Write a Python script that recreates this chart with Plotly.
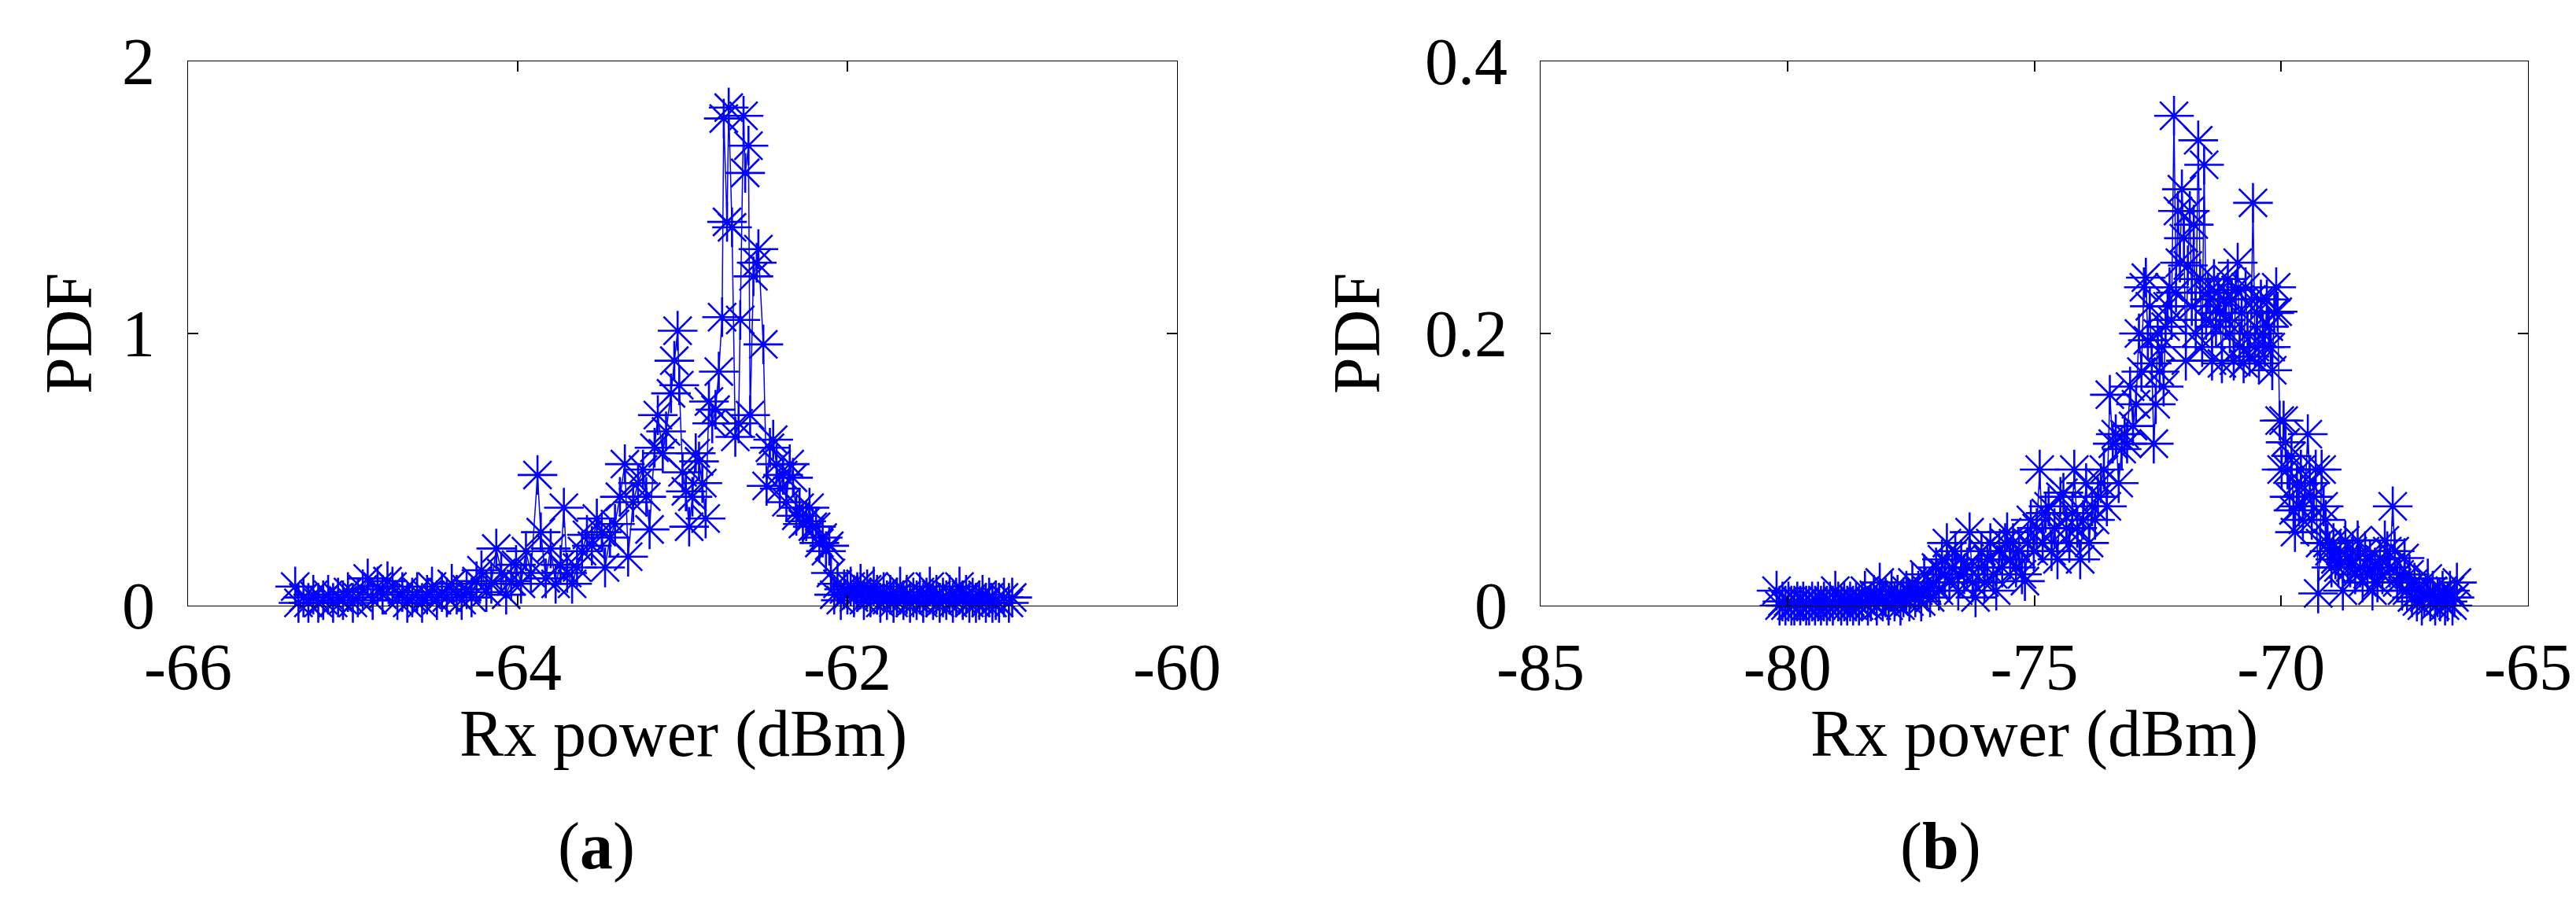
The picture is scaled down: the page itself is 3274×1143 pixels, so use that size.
import plotly.graph_objects as go

# ---------------- data: panel (a) ----------------
a_x = [-65.35, -65.33, -65.30, -65.27, -65.24, -65.21, -65.18, -65.15, -65.12, -65.09,
       -65.06, -65.03, -65.00, -64.97, -64.94, -64.91, -64.88, -64.85, -64.82, -64.79,
       -64.76, -64.73, -64.70, -64.67, -64.64, -64.61, -64.58, -64.55, -64.52, -64.49,
       -64.46, -64.43, -64.40, -64.37, -64.34, -64.31, -64.28, -64.25, -64.22, -64.19,
       -64.16, -64.13, -64.10, -64.07, -64.04, -64.01, -63.98, -63.95, -63.92, -63.88,
       -63.86, -63.83, -63.80, -63.77, -63.74, -63.72, -63.70, -63.67, -63.64, -63.61,
       -63.58, -63.55, -63.52, -63.49, -63.47, -63.44, -63.41, -63.38, -63.35, -63.33,
       -63.30, -63.27, -63.24, -63.22, -63.20, -63.17, -63.15, -63.12, -63.10, -63.07,
       -63.05, -63.03, -63.02, -63.00, -62.98, -62.96, -62.94, -62.92, -62.90, -62.88,
       -62.86, -62.84, -62.82, -62.80, -62.78, -62.76, -62.75, -62.73, -62.72, -62.70,
       -62.68, -62.66, -62.65, -62.63, -62.62, -62.60, -62.59, -62.57, -62.55, -62.54,
       -62.51, -62.49, -62.47, -62.45, -62.43, -62.41, -62.39, -62.37, -62.35, -62.33,
       -62.31, -62.29, -62.27, -62.25, -62.23, -62.21, -62.19, -62.17, -62.15, -62.13,
       -62.11, -62.10, -62.08, -62.06, -62.04, -62.02, -62.00, -61.98, -61.96, -61.94,
       -61.92, -61.90, -61.88, -61.86, -61.84, -61.82, -61.80, -61.78, -61.76, -61.74,
       -61.72, -61.70, -61.68, -61.66, -61.64, -61.62, -61.60, -61.58, -61.56, -61.54,
       -61.52, -61.50, -61.48, -61.46, -61.44, -61.42, -61.40, -61.38, -61.36, -61.34,
       -61.32, -61.30, -61.28, -61.26, -61.24, -61.22, -61.20, -61.18, -61.16, -61.14,
       -61.12, -61.10, -61.08, -61.05, -61.02, -61.00]
a_y = [0.07, 0.01, 0.03, 0.01, 0.04, 0.01, 0.02, 0.04, 0.01, 0.03,
       0.02, 0.05, 0.01, 0.03, 0.06, 0.10, 0.02, 0.07, 0.04, 0.09,
       0.07, 0.02, 0.05, 0.01, 0.03, 0.05, 0.01, 0.04, 0.07, 0.02,
       0.05, 0.03, 0.08, 0.04, 0.02, 0.06, 0.03, 0.09, 0.13, 0.05,
       0.08, 0.21, 0.12, 0.04, 0.09, 0.15, 0.08, 0.20, 0.12, 0.48,
       0.27, 0.10, 0.21, 0.08, 0.15, 0.36, 0.12, 0.08, 0.14, 0.20,
       0.26, 0.22, 0.32, 0.27, 0.14, 0.25, 0.30, 0.40, 0.52, 0.18,
       0.38, 0.45, 0.50, 0.40, 0.28, 0.58, 0.70, 0.56, 0.64, 0.78,
       0.90, 1.01, 0.81, 0.49, 0.42, 0.29, 0.40, 0.56, 0.53, 0.45,
       0.32, 0.75, 0.67, 0.72, 0.86, 1.06, 1.79, 1.41, 1.83, 1.39,
       0.62, 0.67, 1.05, 1.80, 1.59, 1.69, 0.70, 1.21, 1.26, 1.31,
       0.96, 0.44, 0.58, 0.61, 0.52, 0.43, 0.48, 0.38, 0.52, 0.47,
       0.33, 0.36, 0.30, 0.31, 0.36, 0.29, 0.29, 0.23, 0.25, 0.20,
       0.22, 0.12, 0.04, 0.08, 0.02, 0.06, 0.04, 0.07, 0.03, 0.05,
       0.08, 0.02, 0.06, 0.03, 0.07, 0.04, 0.01, 0.05, 0.02, 0.04,
       0.01, 0.03, 0.07, 0.02, 0.04, 0.01, 0.03, 0.02, 0.05, 0.01,
       0.03, 0.07, 0.02, 0.04, 0.01, 0.03, 0.02, 0.04, 0.01, 0.03,
       0.07, 0.02, 0.04, 0.01, 0.03, 0.01, 0.02, 0.04, 0.01, 0.03,
       0.01, 0.02, 0.01, 0.03, 0.01, 0.03]

# ---------------- data: panel (b) ----------------
b_x = [-80.22, -80.16, -80.10, -80.04, -79.98, -79.92, -79.86, -79.80, -79.74, -79.68,
       -79.62, -79.56, -79.50, -79.44, -79.38, -79.32, -79.26, -79.20, -79.14, -79.08,
       -79.03, -78.97, -78.91, -78.85, -78.79, -78.73, -78.67, -78.61, -78.55, -78.49,
       -78.43, -78.37, -78.31, -78.25, -78.19, -78.13, -78.07, -78.01, -77.95, -77.89,
       -77.83, -77.77, -77.71, -77.65, -77.59, -77.53, -77.47, -77.41, -77.35, -77.29,
       -77.23, -77.17, -77.11, -77.05, -76.99, -76.93, -76.87, -76.81, -76.77, -76.72,
       -76.66, -76.60, -76.54, -76.48, -76.42, -76.36, -76.31, -76.25, -76.19, -76.13,
       -76.07, -76.01, -75.95, -75.89, -75.83, -75.77, -75.71, -75.65, -75.59, -75.55,
       -75.49, -75.43, -75.37, -75.31, -75.25, -75.19, -75.13, -75.07, -75.01, -74.95,
       -74.89, -74.83, -74.77, -74.71, -74.65, -74.59, -74.53, -74.47, -74.41, -74.35,
       -74.29, -74.23, -74.19, -74.13, -74.07, -74.01, -73.95, -73.89, -73.83, -73.77,
       -73.71, -73.65, -73.59, -73.53, -73.47, -73.41, -73.35, -73.29, -73.23, -73.17,
       -73.12, -73.06, -73.00, -72.94, -72.88, -72.83, -72.78, -72.74, -72.70, -72.66,
       -72.62, -72.58, -72.54, -72.50, -72.46, -72.42, -72.38, -72.34, -72.30, -72.26,
       -72.22, -72.17, -72.13, -72.09, -72.05, -72.01, -71.97, -71.93, -71.89, -71.85,
       -71.81, -71.77, -71.73, -71.68, -71.64, -71.60, -71.56, -71.52, -71.48, -71.44,
       -71.40, -71.36, -71.32, -71.28, -71.24, -71.20, -71.16, -71.12, -71.08, -71.04,
       -71.00, -70.96, -70.92, -70.88, -70.84, -70.80, -70.76, -70.72, -70.68, -70.64,
       -70.60, -70.57, -70.53, -70.49, -70.45, -70.41, -70.37, -70.33, -70.29, -70.25,
       -70.21, -70.18, -70.14, -70.10, -70.07, -70.03, -69.99, -69.95, -69.91, -69.87,
       -69.83, -69.79, -69.75, -69.72, -69.68, -69.64, -69.60, -69.56, -69.52, -69.46,
       -69.42, -69.38, -69.34, -69.30, -69.25, -69.21, -69.18, -69.14, -69.10, -69.06,
       -69.02, -68.98, -68.94, -68.90, -68.84, -68.80, -68.75, -68.70, -68.65, -68.60,
       -68.55, -68.50, -68.45, -68.40, -68.35, -68.30, -68.25, -68.20, -68.15, -68.10,
       -68.05, -68.00, -67.95, -67.90, -67.85, -67.80, -67.74, -67.70, -67.65, -67.60,
       -67.55, -67.50, -67.45, -67.40, -67.35, -67.30, -67.25, -67.20, -67.15, -67.10,
       -67.03, -66.98, -66.93, -66.88, -66.83, -66.78, -66.73, -66.68, -66.63, -66.58,
       -66.53, -66.49, -66.44]
b_y = [0.011, 0.000, 0.003, 0.000, 0.003, 0.000, 0.000, 0.003, 0.000, 0.003,
       0.000, 0.000, 0.003, 0.000, 0.003, 0.000, 0.003, 0.000, 0.003, 0.000,
       0.011, 0.003, 0.000, 0.003, 0.000, 0.003, 0.000, 0.003, 0.000, 0.003,
       0.011, 0.000, 0.003, 0.008, 0.000, 0.017, 0.003, 0.006, 0.000, 0.011,
       0.003, 0.008, 0.000, 0.006, 0.011, 0.003, 0.017, 0.006, 0.011, 0.003,
       0.023, 0.011, 0.006, 0.017, 0.028, 0.011, 0.034, 0.023, 0.046, 0.017,
       0.028, 0.040, 0.011, 0.034, 0.023, 0.028, 0.054, 0.017, 0.006, 0.028,
       0.040, 0.017, 0.034, 0.046, 0.023, 0.011, 0.040, 0.028, 0.046, 0.054,
       0.034, 0.046, 0.028, 0.040, 0.023, 0.018, 0.046, 0.063, 0.040, 0.057,
       0.100, 0.046, 0.068, 0.073, 0.040, 0.057, 0.034, 0.080, 0.083, 0.057,
       0.046, 0.068, 0.100, 0.057, 0.034, 0.063, 0.090, 0.046, 0.073, 0.063,
       0.080, 0.090, 0.100, 0.073, 0.155, 0.119, 0.126, 0.090, 0.115, 0.126,
       0.119, 0.161, 0.132, 0.148, 0.200, 0.172, 0.234, 0.241, 0.195, 0.220,
       0.178, 0.119, 0.148, 0.200, 0.172, 0.190, 0.161, 0.205, 0.220, 0.234,
       0.210, 0.360, 0.230, 0.290, 0.252, 0.306, 0.270, 0.180, 0.250, 0.290,
       0.220, 0.280, 0.200, 0.342, 0.240, 0.190, 0.324, 0.210, 0.230, 0.225,
       0.180, 0.240, 0.205, 0.230, 0.215, 0.178, 0.225, 0.210, 0.240, 0.200,
       0.225, 0.180, 0.232, 0.252, 0.190, 0.215, 0.178, 0.234, 0.200, 0.183,
       0.225, 0.296, 0.190, 0.215, 0.178, 0.225, 0.200, 0.190, 0.225, 0.205,
       0.190, 0.173, 0.215, 0.234, 0.216, 0.136, 0.100, 0.136, 0.120, 0.100,
       0.080, 0.110, 0.070, 0.054, 0.090, 0.073, 0.100, 0.063, 0.080, 0.126,
       0.090, 0.063, 0.080, 0.100, 0.009, 0.046, 0.100, 0.073, 0.063, 0.046,
       0.040, 0.028, 0.046, 0.034, 0.028, 0.040, 0.011, 0.048, 0.034, 0.028,
       0.040, 0.023, 0.048, 0.028, 0.017, 0.040, 0.023, 0.034, 0.011, 0.028,
       0.017, 0.034, 0.023, 0.048, 0.040, 0.028, 0.073, 0.040, 0.017, 0.023,
       0.011, 0.035, 0.011, 0.023, 0.006, 0.017, 0.003, 0.011, 0.000, 0.006,
       0.020, 0.003, 0.011, 0.000, 0.006, 0.003, 0.011, 0.000, 0.003, 0.011,
       0.000, 0.006, 0.017]

# ---------------- ticks / labels ----------------
a_xticks = [-66, -64, -62, -60]
a_xticktext = ["-66", "-64", "-62", "-60"]
a_yticks = [0, 1, 2]
a_yticktext = ["0", "1", "2"]
b_xticks = [-85, -80, -75, -70, -65]
b_xticktext = ["-85", "-80", "-75", "-70", "-65"]
b_yticks = [0, 0.2, 0.4]
b_yticktext = ["0", "0.2", "0.4"]
x_title = "Rx power (dBm)"
y_title = "PDF"
captions = ["(<b>a</b>)", "(<b>b</b>)"]

# ---------------- figure ----------------
W, H = 3274, 1143
FONT = "Liberation Serif"
BLUE = "rgb(0,0,255)"
FS = 84


def px(x):
    return x / W


def py(y):
    return 1 - y / H


fig = go.Figure()
for xs, ys, xa, ya in [(a_x, a_y, "x", "y"), (b_x, b_y, "x2", "y2")]:
    fig.add_trace(go.Scatter(
        x=xs, y=ys, xaxis=xa, yaxis=ya, mode="lines+markers",
        line=dict(color=BLUE, width=1.5),
        marker=dict(symbol="asterisk-open", size=42, color=BLUE,
                    line=dict(color=BLUE, width=2.6)),
        cliponaxis=False, showlegend=False,
    ))

axis_common = dict(
    showline=True, linecolor="black", linewidth=1.3, mirror="ticks",
    ticks="inside", ticklen=13, tickwidth=2, tickcolor="black",
    showgrid=False, zeroline=False, automargin=False,
    tickfont=dict(family=FONT, size=FS, color="black"),
)

fig.update_layout(
    width=W, height=H,
    margin=dict(l=0, r=0, t=0, b=0, autoexpand=False),
    paper_bgcolor="white", plot_bgcolor="white",
    font=dict(family=FONT, color="black"),
    xaxis=dict(domain=[px(231), px(1488)], range=[-66, -60],
               tickvals=a_xticks, ticktext=a_xticktext, anchor="y",
               ticklabelstandoff=5, **axis_common),
    yaxis=dict(domain=[py(762), py(70)], range=[0, 2],
               tickvals=a_yticks, ticktext=a_yticktext, anchor="x",
               ticklabelstandoff=24, **axis_common),
    xaxis2=dict(domain=[px(1950), px(3205)], range=[-85, -65],
                tickvals=b_xticks, ticktext=b_xticktext, anchor="y2",
                ticklabelstandoff=5, **axis_common),
    yaxis2=dict(domain=[py(762), py(70)], range=[0, 0.4],
                tickvals=b_yticks, ticktext=b_yticktext, anchor="x2",
                ticklabelstandoff=24, **axis_common),
)

ann = []
for cx, ycx in [(860, 79), (2577, 1716)]:
    ann.append(dict(text=x_title, x=px(cx), y=py(925), xref="paper", yref="paper",
                    xanchor="center", yanchor="middle", showarrow=False,
                    font=dict(family=FONT, size=FS, color="black")))
    ann.append(dict(text=y_title, x=px(ycx), y=py(416), xref="paper", yref="paper",
                    xanchor="center", yanchor="middle", showarrow=False, textangle=-90,
                    font=dict(family=FONT, size=FS, color="black")))
for cap, cap_x in zip(captions, [750, 2458]):
    ann.append(dict(text=cap, x=px(cap_x), y=py(1068), xref="paper", yref="paper",
                    xanchor="center", yanchor="middle", showarrow=False,
                    font=dict(family=FONT, size=FS, color="black")))
fig.update_layout(annotations=ann)

fig.write_html("out.html")
